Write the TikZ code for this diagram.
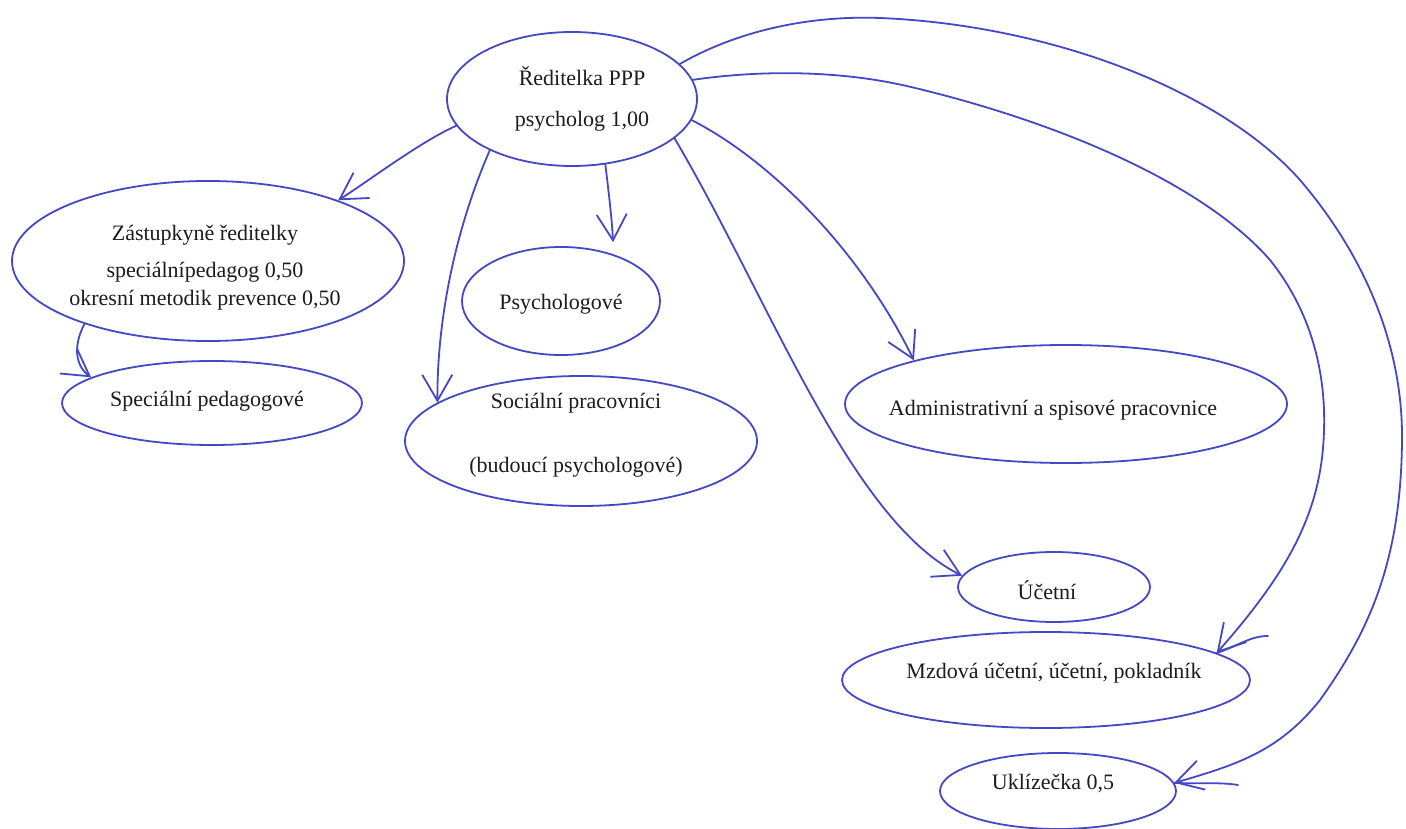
\documentclass[tikz,border=0pt]{standalone}
\usepackage{fontspec}
\setmainfont{Liberation Serif}
\usetikzlibrary{shapes.geometric,arrows.meta}
\definecolor{pen}{RGB}{68,72,196}
\definecolor{ink}{RGB}{28,28,28}
\begin{document}
\begin{tikzpicture}[x=1pt,y=-1pt,
  oval/.style={ellipse, draw=pen, line width=1.8pt, inner sep=0pt},
  lbl/.style={text=ink, align=center, inner sep=0pt, font=\fontsize{22}{26}\selectfont},
  arr/.style={draw=pen, line width=1.8pt, line cap=round, line join=round, -{Straight Barb[length=26pt,width=30pt]}},
  penstroke/.style={draw=pen, line width=1.8pt, line cap=round, line join=round}]
\fill[white] (0,0) rectangle (1406,829);
\useasboundingbox (0,0) rectangle (1406,829);

% ellipses
\node[oval, minimum width=250pt, minimum height=134pt] (R) at (572,99) {};
\node[oval, minimum width=392pt, minimum height=160pt] (Z) at (208,261) {};
\node[oval, minimum width=300pt, minimum height=84pt] (Sp) at (212,403) {};
\node[oval, minimum width=198pt, minimum height=108pt] (P) at (561,301) {};
\node[oval, minimum width=352pt, minimum height=130pt] (S) at (581,441) {};
\node[oval, minimum width=442pt, minimum height=118pt] (A) at (1066,404) {};
\node[oval, minimum width=192pt, minimum height=70pt] (C) at (1054,587) {};
\node[oval, minimum width=408pt, minimum height=96pt] (M) at (1046,680) {};
\node[oval, minimum width=236pt, minimum height=76pt] (U) at (1058,791) {};

% texts
\node[lbl] (Rt) at (582,99) {Ředitelka PPP\\[15pt]psycholog 1,00};
\node[lbl] (Zt) at (205,268) {Zástupkyně ředitelky\\[11pt]speciálnípedagog 0,50\\[2pt]okresní metodik prevence 0,50};
\node[lbl] (Spt) at (207,401) {Speciální pedagogové};
\node[lbl] (Pt) at (561,304) {Psychologové};
\node[lbl] (St) at (576,435) {Sociální pracovníci\\[38pt](budoucí psychologové)};
\node[lbl] (At) at (1053,410) {Administrativní a spisové pracovnice};
\node[lbl] (Ct) at (1047,590) {Účetní};
\node[lbl] (Mt) at (1054,673) {Mzdová účetní, účetní, pokladník};
\node[lbl] (Ut) at (1053,784) {Uklízečka 0,5};

% connectors
\draw[arr] (R.193) .. controls (420,142) and (370,180) .. (Z.25);
\draw[arr] (R.212) .. controls (455,230) and (437,320) .. (S.165);
\draw[arr] (R.297) .. controls (609,195) and (612,220) .. ([yshift=12pt]P.42);
\draw[arr] (R.339) .. controls (770,300) and (850,520) .. (C.173);
\draw[arr] (R.350) .. controls (770,160) and (860,250) .. (A.164);
\draw[arr] (R.9) .. controls (760,70) and (840,70) .. (911,87)
                 .. controls (1050,120) and (1200,180) .. (1270,260)
                 .. controls (1310,310) and (1326,370) .. (1324,430)
                 .. controls (1322,510) and (1290,570) .. (M.9);
\draw[arr] (R.18) .. controls (730,35) and (800,15) .. (880,18)
                  .. controls (1050,25) and (1220,90) .. (1300,180)
                  .. controls (1360,250) and (1403,340) .. (1402,440)
                  .. controls (1401,560) and (1370,630) .. (1320,700)
                  .. controls (1280,750) and (1240,764) .. (U.4);
\draw[arr] (Z.207) .. controls (71,350) and (78,368) .. (Sp.168);

% extra pen strokes at two arrowheads
\coordinate (m1) at (1268,636);
\coordinate (u1) at (1238,785);
\draw[penstroke] (M.9) .. controls (1238,646) and (1250,636) .. (m1);
\draw[penstroke] (U.4) .. controls (1200,784) and (1220,782) .. (u1);
\end{tikzpicture}
\end{document}
